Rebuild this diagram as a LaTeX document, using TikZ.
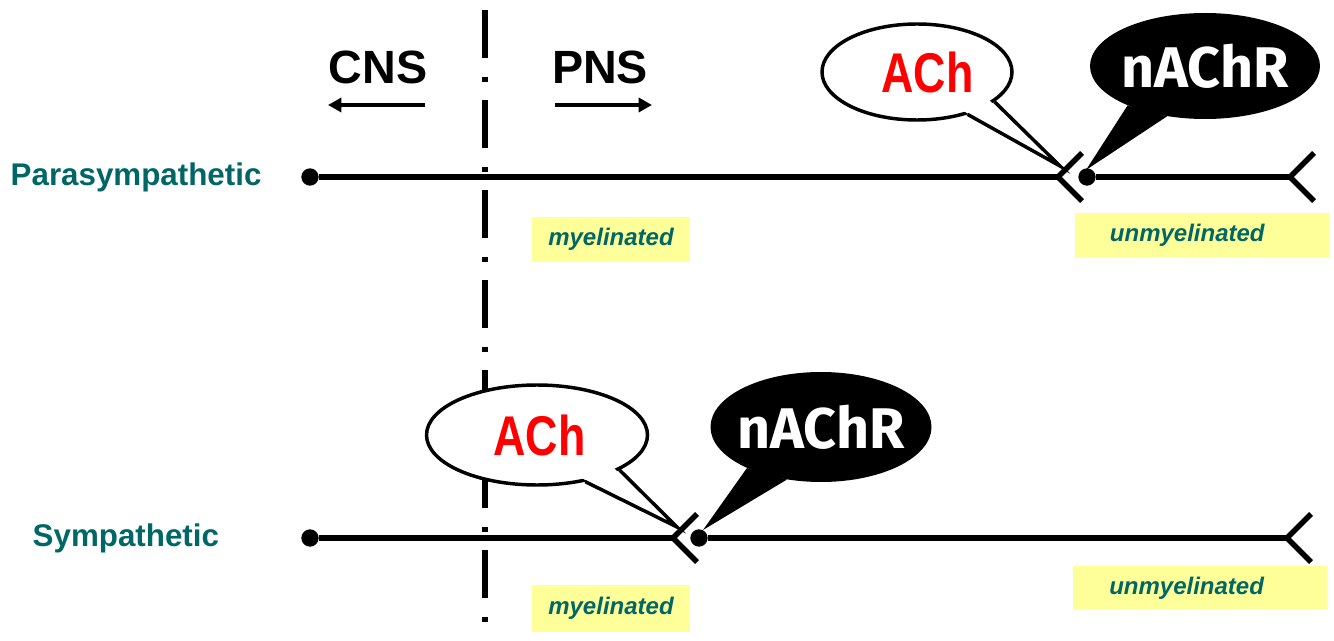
\documentclass[tikz,border=0pt]{standalone}
\usepackage{fontspec}
\usepackage{graphicx}
\setmainfont{Liberation Sans}
\newfontfamily\receptorfont{Fira Sans}
\usetikzlibrary{shapes.geometric,arrows.meta,calc}
\definecolor{nerveteal}{HTML}{006666}
\definecolor{myelinyellow}{HTML}{FFFF99}
\tikzset{
  axon/.style={line width=4.2pt},
  soma/.style={circle,fill,inner sep=0pt,minimum size=13pt},
  boundary/.style={line width=4.2pt,dash pattern=on 36pt off 14.25pt on 3.75pt off 13.5pt},
  region/.style={font=\bfseries\fontsize{35}{35}\selectfont},
  dirarrow/.style={line width=3.5pt,-{Triangle[length=10pt,width=10.5pt]}},
  division/.style={anchor=west,text=nerveteal,font=\bfseries\fontsize{23.5}{23.5}\selectfont},
  sheath/.style={fill=myelinyellow,inner sep=0pt,text=nerveteal,font=\bfseries\itshape\fontsize{18}{18}\selectfont},
  whitebubble/.style={ellipse,draw,fill=white,line width=2.6pt,inner sep=0pt},
  blackbubble/.style={ellipse,fill=black,inner sep=0pt},
  transmitter/.style={text=red,font=\bfseries\fontsize{42}{42}\selectfont},
  receptor/.style={text=white,font=\receptorfont\bfseries\fontsize{43}{43}\selectfont}
}

\begin{document}
\begin{tikzpicture}[x=0.75pt,y=-0.75pt]
\useasboundingbox (0,0) rectangle (1334,641);

% CNS / PNS border
\coordinate (divtop) at (485,10);
\coordinate (divbot) at (485,622);
\draw[boundary] (divtop) -- (divbot);
\node[region] (cns) at (378,67) {CNS};
\node[region] (pns) at (600,67) {PNS};
\coordinate (cnsA) at (425,105);
\coordinate (cnsB) at (328,105);
\coordinate (pnsA) at (555,105);
\coordinate (pnsB) at (652,105);
\draw[dirarrow] (cnsA) -- (cnsB);
\draw[dirarrow] (pnsA) -- (pnsB);

% parasympathetic
\node[division] (para) at (6,177) {Parasympathetic};
\node[soma] (ppre) at (310,177) {};
\coordinate (pfork) at (1058,177);
\node[soma] (ppost) at (1087,177) {};
\coordinate (pend) at (1290,177);
\draw[axon] (ppre) -- (pfork);
\draw[axon] (pfork) ++(24,-24) -- (pfork) -- ++(24,24);
\draw[axon] (ppost) -- (pend);
\draw[axon] (pend) ++(24,-24) -- (pend) -- ++(24,24);
\node[sheath,minimum width=118.5pt,minimum height=33.75pt] (pmyel) at (611,239.5) {myelinated};
\node[sheath,minimum height=33.75pt,inner xsep=26pt,text width=139.25pt,align=left,anchor=west] (punmyel) at (1075,235.5) {unmyelinated};

\node[whitebubble,minimum width=142.5pt,minimum height=72pt,
  label={[transmitter,xshift=8pt]center:\scalebox{0.8}[1]{ACh}}] (pach) at (917,72) {};
\coordinate (pachtip) at (1060,166);
\fill[white] ($(pach.-21)!0.08!(pach.center)$) -- (pachtip) -- ($(pach.-40)!0.08!(pach.center)$) -- cycle;
\draw[line width=2.6pt,line join=miter] (pach.-21) -- (pachtip) -- (pach.-40);
\node[blackbubble,minimum width=172.5pt,minimum height=79.5pt,
  label={[receptor]center:nAChR}] (pnachr) at (1205,66) {};
\coordinate (pnachrtip) at (1086,170);
\fill (pnachr.-153) -- (pnachrtip) -- (pnachr.-127) -- cycle;

% sympathetic
\node[division] (symp) at (28,538) {Sympathetic};
\node[soma] (spre) at (310,538) {};
\coordinate (sfork) at (673,538);
\node[soma] (spost) at (699,538) {};
\coordinate (send) at (1287,538);
\draw[axon] (spre) -- (sfork);
\draw[axon] (sfork) ++(24,-24) -- (sfork) -- ++(24,24);
\draw[axon] (spost) -- (send);
\draw[axon] (send) ++(24,-24) -- (send) -- ++(24,24);
\node[sheath,minimum width=118.5pt,minimum height=35.25pt] (smyel) at (611,608.5) {myelinated};
\node[sheath,minimum height=33pt,inner xsep=27pt,text width=136.5pt,align=left,anchor=west] (sunmyel) at (1073,588) {unmyelinated};

\node[whitebubble,minimum width=165.75pt,minimum height=75pt,
  label={[transmitter,xshift=2pt]center:\scalebox{0.8}[1]{ACh}}] (sach) at (537,435) {};
\coordinate (sachtip) at (677,527);
\fill[white] ($(sach.-23)!0.08!(sach.center)$) -- (sachtip) -- ($(sach.-44)!0.08!(sach.center)$) -- cycle;
\draw[line width=2.6pt,line join=miter] (sach.-23) -- (sachtip) -- (sach.-44);
\node[blackbubble,minimum width=165.75pt,minimum height=82.5pt,
  label={[receptor]center:nAChR}] (snachr) at (821,427) {};
\coordinate (snachrtip) at (703,530);
\fill (snachr.-151) -- (snachrtip) -- (snachr.-123) -- cycle;
\end{tikzpicture}
\end{document}
